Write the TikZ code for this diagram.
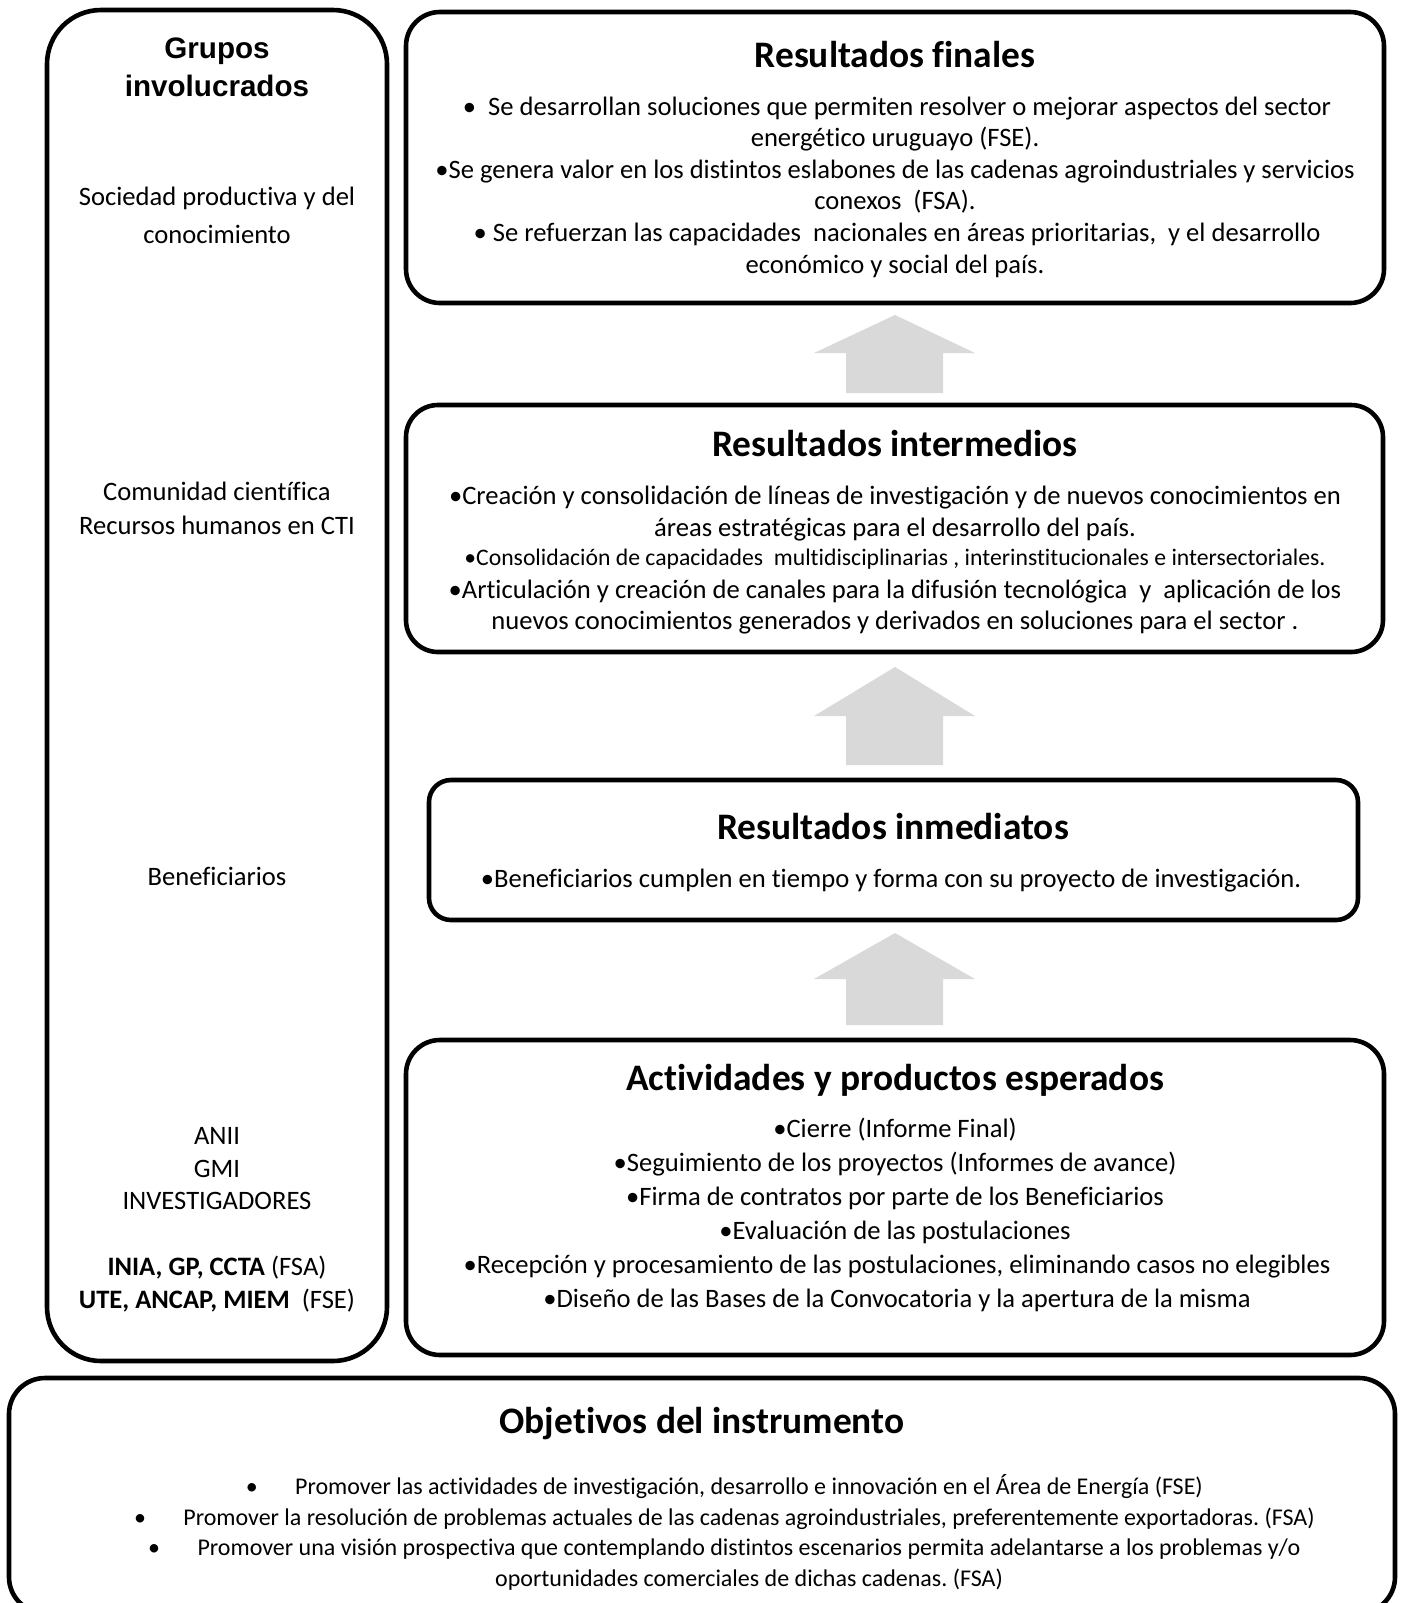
\documentclass[tikz,border=0pt]{standalone}
\usepackage{fontspec}
\setmainfont{Carlito}[Ligatures={NoCommon,NoRare}]
\newfontfamily\arialfont{Liberation Sans}
\usetikzlibrary{fit}
\frenchspacing
\definecolor{arrowgray}{HTML}{D9D9D9}
\tikzset{
  box/.style={draw=black, line width=2.3pt, inner sep=0pt},
  txt/.style={inner sep=0pt, text height=9.2pt, text depth=3.1pt, font=\fontsize{13.3}{16}\selectfont},
  smalltxt/.style={inner sep=0pt, text height=8.2pt, text depth=2.8pt, font=\fontsize{11.85}{14.2}\selectfont},
  objtxt/.style={inner sep=0pt, text height=8.3pt, text depth=2.8pt, font=\fontsize{12}{14.4}\selectfont},
  ttl/.style={inner sep=0pt, text height=13.5pt, text depth=3.5pt, font=\fontsize{18.7}{22.4}\selectfont\bfseries},
  grp/.style={inner sep=0pt, text height=10.7pt, text depth=3pt, font=\fontsize{14.8}{17.8}\selectfont\arialfont\bfseries},
  uparrow/.style={fill=arrowgray, draw=none},
}
\begin{document}
\begin{tikzpicture}[x=0.5pt,y=-0.5pt]
\useasboundingbox (0,0) rectangle (1402,1603);
\clip (0,0) rectangle (1402,1603);

% ---------- boxes ----------
\coordinate (g1) at (47,10);   \coordinate (g2) at (387,1361);
\coordinate (f1) at (406,12);  \coordinate (f2) at (1384,303);
\coordinate (m1) at (406,405); \coordinate (m2) at (1383,652);
\coordinate (i1) at (429,780); \coordinate (i2) at (1358,920);
\coordinate (a1) at (406,1040);\coordinate (a2) at (1384,1355);
\coordinate (o1) at (9,1378);  \coordinate (o2) at (1395,1613);

\node[box, rounded corners=27pt, fit=(g1)(g2)] (grupos) {};
\node[box, rounded corners=17pt, fit=(f1)(f2)] (finales) {};
\node[box, rounded corners=16pt, fit=(m1)(m2)] (intermedios) {};
\node[box, rounded corners=11pt, fit=(i1)(i2)] (inmediatos) {};
\node[box, rounded corners=17pt, fit=(a1)(a2)] (actividades) {};
\node[box, rounded corners=18pt, fit=(o1)(o2)] (objetivos) {};

% ---------- block arrows ----------
\fill[uparrow] (895,315) -- (975,353) -- (943,353) -- (943,393) -- (846,393) -- (846,353) -- (814,353) -- cycle;
\fill[uparrow] (895,667) -- (975,716) -- (943,716) -- (943,765) -- (846,765) -- (846,716) -- (814,716) -- cycle;
\fill[uparrow] (895,933) -- (975,979) -- (943,979) -- (943,1025) -- (846,1025) -- (846,979) -- (814,979) -- cycle;

% ---------- Grupos involucrados ----------
\node[grp] (g-t1) at (217,51) {Grupos};
\node[grp] (g-t2) at (217,89) {involucrados};
\node[txt] (g-a1) at (217,199) {Sociedad productiva y del};
\node[txt] (g-a2) at (217,237) {conocimiento};
\node[txt] (g-b1) at (217,494) {Comunidad científica};
\node[txt] (g-b2) at (217,528) {Recursos humanos en CTI};
\node[txt] (g-c1) at (217,879) {Beneficiarios};
\node[txt] (g-d1) at (217,1138) {ANII};
\node[txt] (g-d2) at (217,1171) {GMI};
\node[txt] (g-d3) at (217,1203) {INVESTIGADORES};
\node[txt] (g-e1) at (217,1269) {\textbf{INIA, GP, CCTA} (FSA)};
\node[txt] (g-e2) at (217,1302) {\textbf{UTE, ANCAP, MIEM}\ \ (FSE)};

% ---------- Resultados finales ----------
\node[ttl] (f-t) at (895,57) {Resultados finales};
\node[txt] (f-l1) at (897,109) {•\ \ Se desarrollan soluciones que permiten resolver o mejorar aspectos del sector};
\node[txt] (f-l2) at (895,140) {energético uruguayo (FSE).};
\node[txt] (f-l3) at (895,172) {•Se genera valor en los distintos eslabones de las cadenas agroindustriales y servicios};
\node[txt] (f-l4) at (895,203) {conexos\ \ (FSA).};
\node[txt] (f-l5) at (897,235) {• Se refuerzan las capacidades\ \ nacionales en áreas prioritarias,\ \ y el desarrollo};
\node[txt] (f-l6) at (895,267) {económico y social del país.};

% ---------- Resultados intermedios ----------
\node[ttl] (m-t) at (895,446) {Resultados intermedios};
\node[txt] (m-l1) at (895,498) {•Creación y consolidación de líneas de investigación y de nuevos conocimientos en};
\node[txt] (m-l2) at (895,530) {áreas estratégicas para el desarrollo del país.};
\node[smalltxt] (m-l3) at (895,560) {•Consolidación de capacidades\ \ multidisciplinarias , interinstitucionales e intersectoriales.};
\node[txt] (m-l4) at (895,592) {•Articulación y creación de canales para la difusión tecnológica\ \ y\ \ aplicación de los};
\node[txt] (m-l5) at (895,623) {nuevos conocimientos generados y derivados en soluciones para el sector .};

% ---------- Resultados inmediatos ----------
\node[ttl] (i-t) at (893,829) {Resultados inmediatos};
\node[txt] (i-l1) at (891,881) {•Beneficiarios cumplen en tiempo y forma con su proyecto de investigación.};

% ---------- Actividades ----------
\node[ttl] (a-t) at (895,1080) {Actividades y productos esperados};
\node[txt] (a-l1) at (895,1131) {•Cierre (Informe Final)};
\node[txt] (a-l2) at (895,1165) {•Seguimiento de los proyectos (Informes de avance)};
\node[txt] (a-l3) at (895,1199) {•Firma de contratos por parte de los Beneficiarios};
\node[txt] (a-l4) at (895,1233) {•Evaluación de las postulaciones};
\node[txt] (a-l5) at (897,1267) {•Recepción y procesamiento de las postulaciones, eliminando casos no elegibles};
\node[txt] (a-l6) at (897,1301) {•Diseño de las Bases de la Convocatoria y la apertura de la misma};

% ---------- Objetivos ----------
\node[ttl] (o-t) at (702,1423) {Objetivos del instrumento};
\node[objtxt] (o-l1) at (749,1489) {Promover las actividades de investigación, desarrollo e innovación en el Área de Energía (FSE)};
\node[objtxt] (o-l2) at (749,1519.5) {Promover la resolución de problemas actuales de las cadenas agroindustriales, preferentemente exportadoras. (FSA)};
\node[objtxt] (o-l3) at (749,1550) {Promover una visión prospectiva que contemplando distintos escenarios permita adelantarse a los problemas y/o};
\node[objtxt] (o-l4) at (749,1580.5) {oportunidades comerciales de dichas cadenas. (FSA)};
\node[objtxt, anchor=center] (o-b1) at ([xshift=-21.5pt]o-l1.west) {•};
\node[objtxt, anchor=center] (o-b2) at ([xshift=-21.5pt]o-l2.west) {•};
\node[objtxt, anchor=center] (o-b3) at ([xshift=-21.5pt]o-l3.west) {•};
\end{tikzpicture}
\end{document}
